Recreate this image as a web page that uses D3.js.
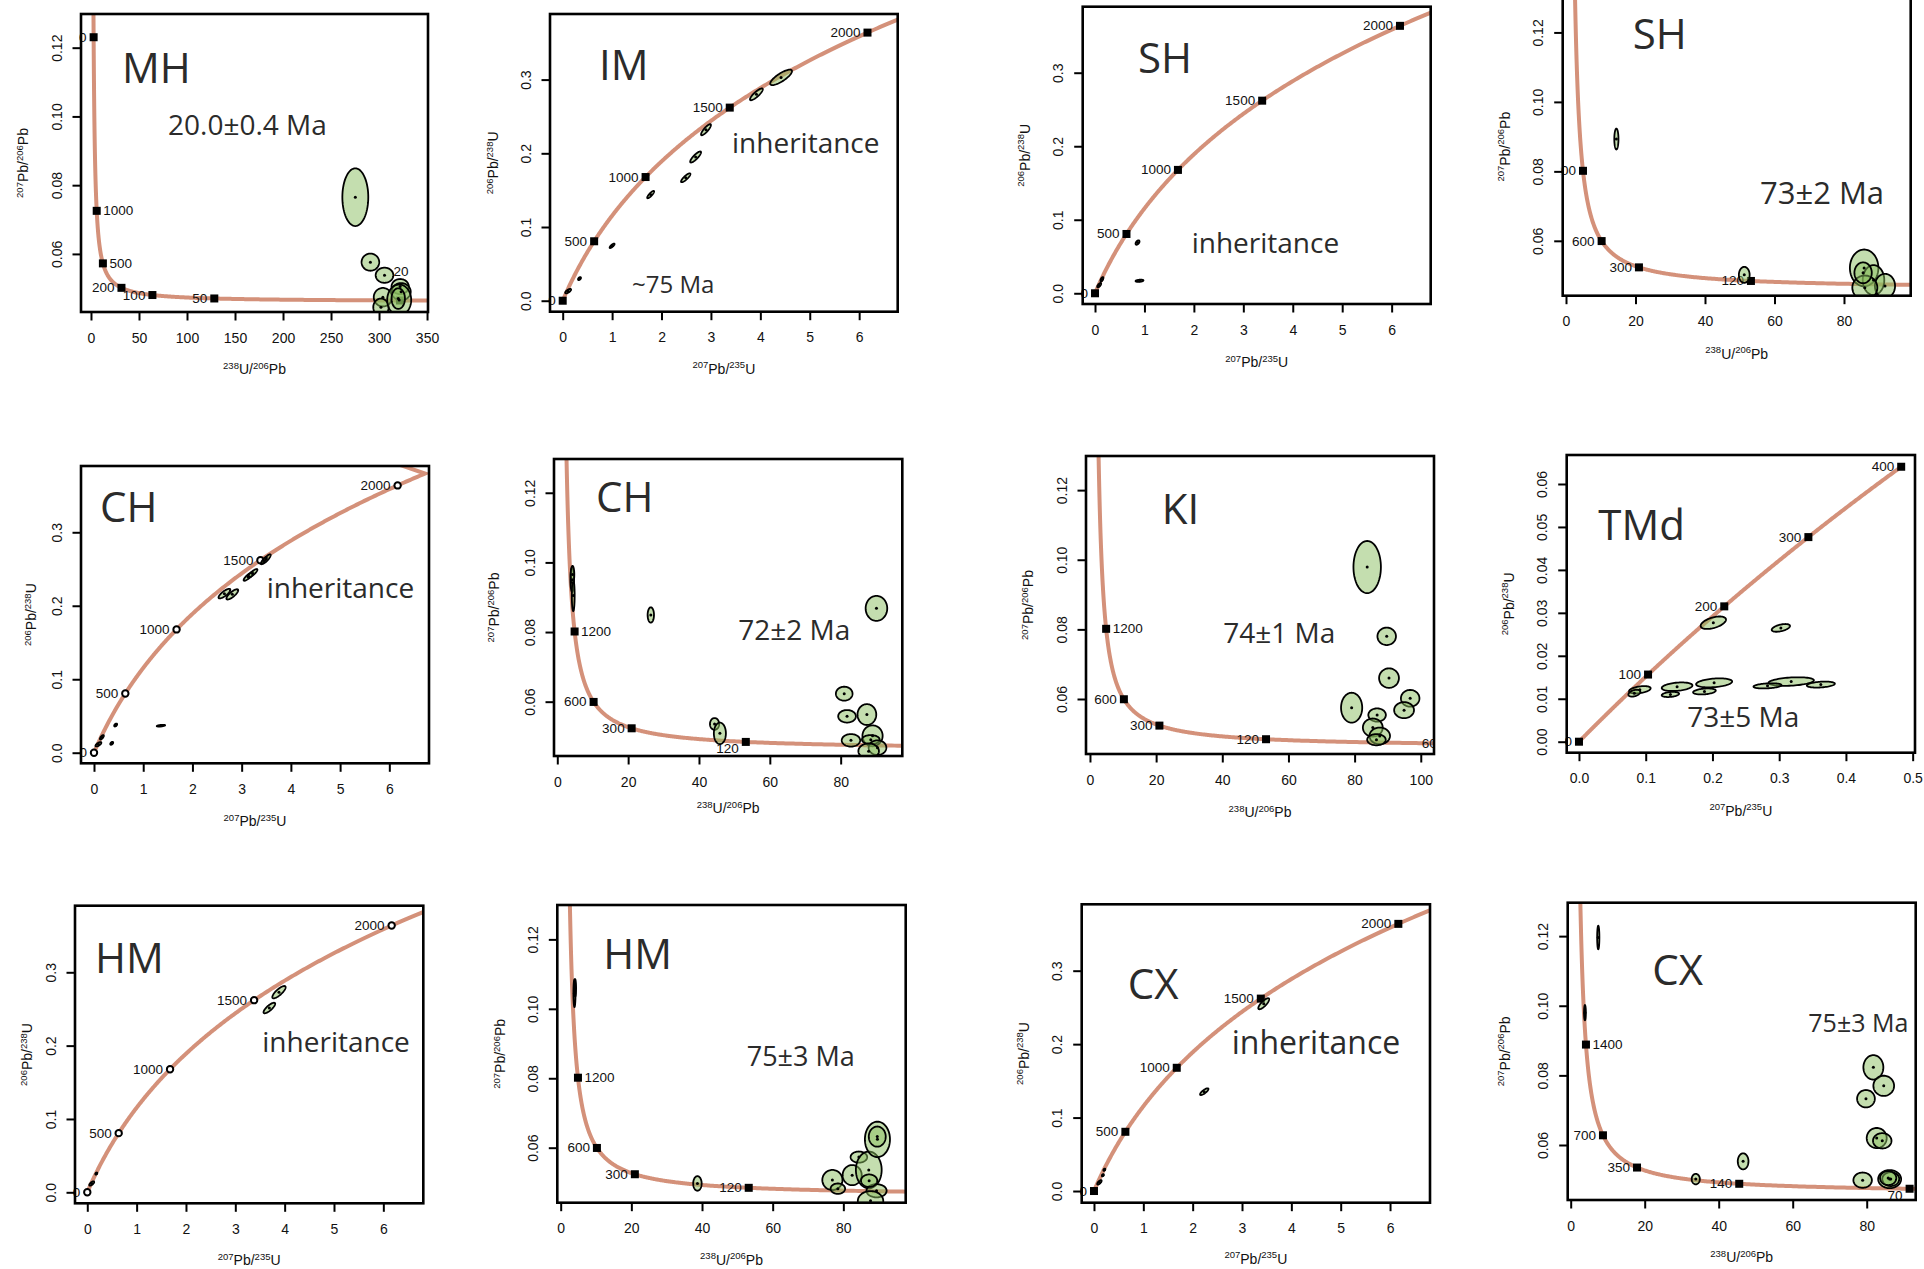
<!DOCTYPE html>
<html>
<head>
<meta charset="utf-8">
<script src="https://cdn.jsdelivr.net/npm/d3@7"></script>
<style>
body { margin: 0; background: #fff; }
svg { display: block; }
.axis text { font-family: "Liberation Sans", Arial, sans-serif; font-size: 14px; fill: #111; }
.axis-title { font-family: "Liberation Sans", Arial, sans-serif; font-size: 14px; fill: #111; }
.age-label { font-family: "Liberation Sans", Arial, sans-serif; font-size: 13.5px; fill: #111; }
.note { font-family: "Open Sans", "Noto Sans", sans-serif; fill: #2b2b2b; }
</style>
</head>
<body>
<svg id="chart" width="1924" height="1269"></svg>
<script>
// decay constants (per Ma) and 238U/235U
const L238 = 1.55125e-4;
const L235 = 9.8485e-4;
const U_RATIO = 137.818;

// tick values
const tw_y_ticks = [0.06, 0.08, 0.10, 0.12];
const w_y_ticks = [0, 0.1, 0.2, 0.3];
const w_x_ticks = [0, 1, 2, 3, 4, 5, 6];
const tw_x_ticks = [0, 20, 40, 60, 80];
const mh_x_ticks = [0, 50, 100, 150, 200, 250, 300, 350];
const ki_x_ticks = [0, 20, 40, 60, 80, 100];
const tmd_x_ticks = [0, 0.1, 0.2, 0.3, 0.4, 0.5];
const tmd_y_ticks = [0, 0.01, 0.02, 0.03, 0.04, 0.05, 0.06];

// concordia age markers (Ma)
const mh_ages = [2000, 1000, 500, 200, 100, 50, 20];
const w_ages = [0, 500, 1000, 1500, 2000];
const sh_tw_ages = [1200, 600, 300, 120];
const ki_ages = [1200, 600, 300, 120, 60];
const tmd_ages = [0, 100, 200, 300, 400];
const cx_tw_ages = [1400, 700, 350, 140, 70];

// spot ellipses: [x, y, half width x, half width y, rho]
const mh_spots = [
    [275.3, 0.0765, 13.5, 0.0084, 0], [291, 0.0576, 9.2, 0.0025, 0], [305.7, 0.0538, 9.2, 0.0022, 0],
    [304, 0.0474, 9.5, 0.0027, 0], [302, 0.0445, 8, 0.0025, 0], [322, 0.0505, 9, 0.0022, 0],
    [323, 0.0490, 10, 0.0025, 0], [321, 0.0466, 12.5, 0.0045, 0], [320, 0.0470, 7, 0.0030, 0]
];
const im_spots = [
    [4.42, 0.303, 0.22, 0.0105, 0.8], [3.92, 0.280, 0.13, 0.008, 0.85], [2.90, 0.232, 0.10, 0.0075, 0.85],
    [2.69, 0.195, 0.11, 0.0075, 0.85], [2.49, 0.1668, 0.095, 0.006, 0.85], [1.78, 0.144, 0.07, 0.005, 0.85],
    [1.0, 0.0745, 0.05, 0.003, 0.8], [0.34, 0.030, 0.03, 0.002, 0.5], [0.11, 0.013, 0.06, 0.003, 0.7]
];
const sh_w_spots = [
    [0.86, 0.069, 0.04, 0.003, 0.5], [0.9, 0.017, 0.08, 0.0015, 0.3],
    [0.14, 0.019, 0.03, 0.003, 0.6], [0.085, 0.011, 0.04, 0.003, 0.7]
];
const sh_tw_spots = [
    [14.5, 0.0893, 0.6, 0.003, 0], [51.3, 0.0502, 1.55, 0.0023, 0], [85.8, 0.0522, 4.1, 0.0053, 0],
    [88.5, 0.0487, 3.1, 0.0043, 0], [91.8, 0.047, 2.9, 0.0035, 0], [86, 0.0465, 3.6, 0.0035, 0],
    [85.5, 0.0508, 2.5, 0.003, 0]
];
const ch_w_spots = [
    [3.5, 0.2635, 0.09, 0.0065, 0.85], [3.45, 0.2615, 0.06, 0.005, 0.85], [3.14, 0.240, 0.1, 0.006, 0.85],
    [3.22, 0.244, 0.1, 0.006, 0.85], [2.65, 0.2165, 0.12, 0.0065, 0.8], [2.81, 0.2155, 0.12, 0.007, 0.8],
    [1.36, 0.0368, 0.085, 0.0012, 0.5], [0.44, 0.0377, 0.03, 0.002, 0.5], [0.36, 0.0128, 0.03, 0.002, 0.5],
    [0.16, 0.021, 0.04, 0.003, 0.7], [0.09, 0.0115, 0.06, 0.003, 0.7]
];
const ch_w_tail = [[6.2, 0.392]];
const ch_tw_spots = [
    [4.2, 0.095, 0.5, 0.0035, 0], [4.5, 0.0905, 0.4, 0.0045, 0], [4.3, 0.0965, 0.5, 0.0025, 0],
    [26.4, 0.0849, 0.9, 0.0022, 0], [44.4, 0.0536, 1.3, 0.0017, 0], [45.9, 0.0509, 1.7, 0.0031, 0],
    [90.1, 0.0868, 3.05, 0.0036, 0], [81, 0.0623, 2.35, 0.002, 0], [81.8, 0.0558, 2.5, 0.0018, 0],
    [87.4, 0.0563, 2.65, 0.003, 0], [82.9, 0.0489, 2.6, 0.0018, 0], [89, 0.0502, 2.85, 0.003, 0],
    [88.5, 0.0491, 2.5, 0.0013, 0], [90.4, 0.0468, 2.5, 0.0021, 0], [87.9, 0.0458, 2.9, 0.0022, 0]
];
const ki_spots = [
    [83.8, 0.0979, 4.15, 0.0075, 0], [89.7, 0.078, 2.8, 0.0025, 0], [90.4, 0.066, 3, 0.0028, 0],
    [79.1, 0.0575, 3.2, 0.0043, 0], [96.8, 0.0602, 2.8, 0.0024, 0], [94.95, 0.0568, 3, 0.0023, 0],
    [86.8, 0.0554, 2.65, 0.0019, 0], [85.5, 0.0518, 3, 0.0026, 0], [87.6, 0.0494, 3.1, 0.0024, 0],
    [86.6, 0.0483, 2.8, 0.0016, 0]
];
const tmd_spots = [
    [0.2013, 0.0277, 0.019, 0.00145, 0.5], [0.3025, 0.0265, 0.0137, 0.0009, 0.5],
    [0.0912, 0.0121, 0.0162, 0.00085, 0.4], [0.083, 0.0113, 0.009, 0.0008, 0.4],
    [0.147, 0.0128, 0.023, 0.001, 0.3], [0.137, 0.011, 0.013, 0.0006, 0.3],
    [0.2025, 0.0137, 0.027, 0.00105, 0.3], [0.188, 0.0117, 0.017, 0.0007, 0.3],
    [0.318, 0.014, 0.034, 0.001, 0.3], [0.2825, 0.013, 0.021, 0.0006, 0.3],
    [0.3624, 0.0133, 0.021, 0.0007, 0.3]
];
const hm_w_spots = [
    [3.885, 0.2729, 0.135, 0.0084, 0.8], [3.69, 0.2513, 0.118, 0.0072, 0.8],
    [0.183, 0.0255, 0.02, 0.0015, 0.5], [0.09, 0.012, 0.05, 0.003, 0.7]
];
const hm_tw_spots = [
    [3.9, 0.1045, 0.3, 0.004, 0], [4.1, 0.106, 0.25, 0.0025, 0], [38.7, 0.0497, 1.2, 0.0021, 0],
    [76.9, 0.0507, 2.85, 0.0029, 0], [78.45, 0.0482, 2.05, 0.0015, 0], [82.5, 0.0521, 2.7, 0.0029, 0],
    [84.4, 0.0573, 2.35, 0.0016, 0], [87.2, 0.0536, 3.65, 0.0053, 0], [89.65, 0.0624, 3.55, 0.0051, 0],
    [89.6, 0.0632, 2.4, 0.0029, 0], [89.4, 0.0476, 2.85, 0.0019, 0], [87.7, 0.0447, 3.6, 0.0028, 0],
    [87.3, 0.0505, 2.3, 0.0018, 0]
];
const cx_w_spots = [
    [3.44, 0.255, 0.11, 0.0075, 0.8], [2.235, 0.1353, 0.085, 0.0046, 0.8],
    [0.21, 0.029, 0.02, 0.0015, 0.5], [0.18, 0.0215, 0.02, 0.0015, 0.5], [0.11, 0.0118, 0.045, 0.003, 0.7]
];
const cx_tw_spots = [
    [7.45, 0.1196, 0.3, 0.0034, 0], [3.85, 0.098, 0.25, 0.0022, 0], [33.8, 0.0502, 1.1, 0.0015, 0],
    [46.6, 0.0553, 1.45, 0.0023, 0], [81.8, 0.0823, 2.7, 0.0035, 0], [84.6, 0.077, 2.8, 0.0029, 0],
    [79.8, 0.0733, 2.4, 0.0025, 0], [82.7, 0.062, 2.7, 0.0029, 0], [84.2, 0.0612, 2.5, 0.0022, 0],
    [78.9, 0.0499, 2.5, 0.0022, 0], [86.2, 0.0502, 3.1, 0.0026, 0], [86.5, 0.0502, 2.3, 0.002, 0],
    [85.8, 0.0505, 2.2, 0.002, 0]
];

const TW_X = ["238", "U", "206", "Pb"], TW_Y = ["207", "Pb", "206", "Pb"];
const W_X = ["207", "Pb", "235", "U"], W_Y = ["206", "Pb", "238", "U"];

const panels = [
    { id: "mh", kind: "tw", box: [81, 14, 428, 312], xDomain: [-10.4, 351], yDomain: [0.0431, 0.1298],
      xTicks: mh_x_ticks, yTicks: tw_y_ticks, xFmt: "d", yFmt: ".2f", ages: mh_ages,
      sides: ["l", "r", "r", "l", "l", "l", "t"], spots: mh_spots, marker: "square",
      texts: [["MH", 41, 69.3, 42], ["20.0±0.4 Ma", 87, 121, 28]], yTitleDx: -53, xTitleDy: 62 },
    { id: "im", kind: "w", box: [550, 14, 897.7, 311.7], xDomain: [-0.257, 6.78], yDomain: [-0.0149, 0.389],
      xTicks: w_x_ticks, yTicks: w_y_ticks, xFmt: "d", yFmt: ".1f", ages: w_ages, spots: im_spots,
      marker: "square", curveMax: 2600,
      texts: [["IM", 49, 66, 42], ["inheritance", 182, 139, 28], ["~75 Ma", 82, 279, 24]], yTitleDx: -52, xTitleDy: 62 },
    { id: "shw", kind: "w", box: [1082.7, 6.7, 1430.7, 304], xDomain: [-0.249, 6.79], yDomain: [-0.0146, 0.3898],
      xTicks: w_x_ticks, yTicks: w_y_ticks, xFmt: "d", yFmt: ".1f", ages: w_ages, spots: sh_w_spots,
      marker: "square", curveMax: 2600,
      texts: [["SH", 55.3, 66.6, 42], ["inheritance", 109, 246.3, 28]], yTitleDx: -53, xTitleDy: 63 },
    { id: "shtw", kind: "tw", box: [1562.7, -2.3, 1910.7, 295.7], xDomain: [-0.95, 99.2], yDomain: [0.0442, 0.13],
      xTicks: tw_x_ticks, yTicks: tw_y_ticks, xFmt: "d", yFmt: ".2f", ages: sh_tw_ages, spots: sh_tw_spots,
      marker: "square", texts: [["SH", 70, 51.6, 42], ["73±2 Ma", 197.3, 206.3, 31]], yTitleDx: -53, xTitleDy: 63 },
    { id: "chw", kind: "w", box: [81, 466, 429, 763.3], xDomain: [-0.264, 6.806], yDomain: [-0.0144, 0.3902],
      xTicks: w_x_ticks, yTicks: w_y_ticks, xFmt: "d", yFmt: ".1f", ages: w_ages, spots: ch_w_spots,
      marker: "circle", curveMax: 2076, tail: ch_w_tail,
      texts: [["CH", 19, 55.7, 42], ["inheritance", 185.7, 132.3, 28]], yTitleDx: -45, xTitleDy: 63 },
    { id: "chtw", kind: "tw", box: [554, 459, 902.3, 756], xDomain: [-0.93, 97.4], yDomain: [0.0444, 0.1297],
      xTicks: tw_x_ticks, yTicks: tw_y_ticks, xFmt: "d", yFmt: ".2f", ages: sh_tw_ages,
      sides: ["r", "l", "l", "lb"], spots: ch_tw_spots, marker: "square",
      texts: [["CH", 42, 52.7, 42], ["72±2 Ma", 184.3, 181, 28]], yTitleDx: -55, xTitleDy: 57 },
    { id: "ki", kind: "tw", box: [1086, 456, 1434, 754], xDomain: [-1.2, 104.0], yDomain: [0.0442, 0.1298],
      xTicks: ki_x_ticks, yTicks: tw_y_ticks, xFmt: "d", yFmt: ".2f", ages: ki_ages,
      sides: ["r", "l", "l", "l", "l"], spots: ki_spots, marker: "square",
      texts: [["KI", 75.7, 68.3, 42], ["74±1 Ma", 137.3, 187.3, 28]], yTitleDx: -53, xTitleDy: 63 },
    { id: "tmd", kind: "w", box: [1566.7, 455, 1915, 752.7], xDomain: [-0.0184, 0.5035], yDomain: [-0.00256, 0.06675],
      xTicks: tmd_x_ticks, yTicks: tmd_y_ticks, xFmt: ".1f", yFmt: ".2f", ages: tmd_ages, spots: tmd_spots,
      marker: "square", curveMax: 400,
      texts: [["TMd", 31.6, 85, 42], ["73±5 Ma", 120.6, 271.7, 28]], yTitleDx: -53, xTitleDy: 63 },
    { id: "hmw", kind: "w", box: [75, 905.7, 423.3, 1203.3], xDomain: [-0.249, 6.81], yDomain: [-0.015, 0.3908],
      xTicks: w_x_ticks, yTicks: w_y_ticks, xFmt: "d", yFmt: ".1f", ages: w_ages, spots: hm_w_spots,
      marker: "circle", curveMax: 2600,
      texts: [["HM", 20, 67.6, 42], ["inheritance", 187.3, 146, 28]], yTitleDx: -43, xTitleDy: 62 },
    { id: "hmtw", kind: "tw", box: [557.3, 905, 905.7, 1202.7], xDomain: [-0.96, 97.65], yDomain: [0.04416, 0.1299],
      xTicks: tw_x_ticks, yTicks: tw_y_ticks, xFmt: "d", yFmt: ".2f", ages: sh_tw_ages,
      sides: ["r", "l", "l", "l"], spots: hm_tw_spots, marker: "square",
      texts: [["HM", 46, 64.3, 42], ["75±3 Ma", 189.4, 160.7, 27]], yTitleDx: -52, xTitleDy: 62 },
    { id: "cxw", kind: "w", box: [1081.7, 904.3, 1430, 1202.7], xDomain: [-0.249, 6.81], yDomain: [-0.0159, 0.3904],
      xTicks: w_x_ticks, yTicks: w_y_ticks, xFmt: "d", yFmt: ".1f", ages: w_ages, spots: cx_w_spots,
      marker: "square", curveMax: 2600,
      texts: [["CX", 46, 95, 42], ["inheritance", 150, 149.7, 32]], yTitleDx: -53, xTitleDy: 61 },
    { id: "cxtw", kind: "tw", box: [1567.7, 902.7, 1915.7, 1200], xDomain: [-0.81, 93.24], yDomain: [0.0442, 0.1296],
      xTicks: tw_x_ticks, yTicks: tw_y_ticks, xFmt: "d", yFmt: ".2f", ages: cx_tw_ages,
      sides: ["r", "l", "l", "l", "lb"], spots: cx_tw_spots, marker: "square",
      texts: [["CX", 84.6, 82.3, 42], ["75±3 Ma", 240.6, 129, 25]], yTitleDx: -58, xTitleDy: 62 }
];

function wetherill(t) {
    return [Math.expm1(L235 * t), Math.expm1(L238 * t)];
}

function tera_wasserburg(t) {
    const a = Math.expm1(L238 * t);
    return [1 / a, Math.expm1(L235 * t) / a / U_RATIO];
}

function ellipse_points(e) {
    const [cx, cy, sx, sy, rho] = e;
    const k = Math.sqrt(1 - rho * rho);
    return d3.range(0, 72).map(i => {
        const a = 2 * Math.PI * i / 72;
        return [cx + sx * Math.cos(a), cy + sy * (rho * Math.cos(a) + k * Math.sin(a))];
    });
}

function ratio_text(sel, parts) {
    // parts = [mass, element, mass, element]
    sel.append("tspan").attr("font-size", 9.5).attr("dy", -5.5).text(parts[0]);
    sel.append("tspan").attr("font-size", 14).attr("dy", 5.5).text(parts[1] + "/");
    sel.append("tspan").attr("font-size", 9.5).attr("dy", -5.5).text(parts[2]);
    sel.append("tspan").attr("font-size", 14).attr("dy", 5.5).text(parts[3]);
}

const svg = d3.select("#chart");
svg.append("rect").attr("width", 1924).attr("height", 1269).attr("fill", "#fff");
const defs = svg.append("defs");

panels.forEach(p => {
    const [x0, y0, x1, y1] = p.box;
    const xs = d3.scaleLinear().domain(p.xDomain).range([x0, x1]);
    const ys = d3.scaleLinear().domain(p.yDomain).range([y1, y0]);
    const proj = p.kind === "tw" ? tera_wasserburg : wetherill;

    defs.append("clipPath").attr("id", "clip-" + p.id)
        .append("rect")
        .attr("x", x0 - 2).attr("y", y0)
        .attr("width", x1 - x0 + 2).attr("height", y1 - y0);

    const g = svg.append("g");
    const plot = g.append("g").attr("clip-path", `url(#clip-${p.id})`);

    // concordia
    let ts;
    if (p.kind === "tw") ts = d3.range(0, 801).map(i => 4 * Math.pow(1000, i / 800));
    else ts = d3.range(0, 401).map(i => p.curveMax * i / 400);
    let curve = ts.map(proj);
    if (p.tail) curve = curve.concat(p.tail);

    const line = d3.line().x(d => xs(d[0])).y(d => ys(d[1]));
    plot.append("path")
        .attr("d", line(curve))
        .attr("fill", "none")
        .attr("stroke", "#d4917a")
        .attr("stroke-width", 4);

    // age markers
    const marks = p.ages.map((t, i) => {
        const c = proj(t === 0 ? 1e-9 : t);
        return { t: t, x: xs(p.kind === "w" && t === 0 ? 0 : c[0]), y: ys(p.kind === "w" && t === 0 ? 0 : c[1]),
                 side: p.sides ? p.sides[i] : "l" };
    });

    if (p.marker === "square") {
        plot.selectAll("rect.mk").data(marks).enter().append("rect")
            .attr("x", d => d.x - 4).attr("y", d => d.y - 4)
            .attr("width", 8).attr("height", 8)
            .attr("fill", "#000");
    } else {
        plot.selectAll("circle.mk").data(marks).enter().append("circle")
            .attr("cx", d => d.x).attr("cy", d => d.y).attr("r", 3.2)
            .attr("fill", "#fff").attr("stroke", "#000").attr("stroke-width", 2);
    }

    plot.selectAll("text.age").data(marks).enter().append("text")
        .attr("class", "age-label")
        .attr("x", d => d.side === "r" ? d.x + 6.5 : d.side === "t" ? d.x + 1 : d.x - 7)
        .attr("y", d => d.side === "lb" ? d.y + 7 : d.side === "t" ? d.y - 29 : d.y)
        .attr("dominant-baseline", "central")
        .attr("text-anchor", d => d.side === "r" ? "start" : d.side === "t" ? "middle" : "end")
        .text(d => d.t);

    // spot ellipses
    plot.selectAll("path.spot").data(p.spots).enter().append("path")
        .attr("d", d => d3.line().x(q => xs(q[0])).y(q => ys(q[1])).curve(d3.curveLinearClosed)(ellipse_points(d)))
        .attr("fill", "rgba(138,190,96,0.5)")
        .attr("stroke", "#000")
        .attr("stroke-width", 1.8);

    plot.selectAll("circle.dot").data(p.spots).enter().append("circle")
        .attr("cx", d => xs(d[0])).attr("cy", d => ys(d[1])).attr("r", 1.5)
        .attr("fill", "#000");

    // annotations
    p.texts.forEach(([txt, dx, dy, size]) => {
        g.append("text").attr("class", "note")
            .attr("x", x0 + dx).attr("y", y0 + dy)
            .attr("font-size", size)
            .text(txt);
    });

    // axes
    const xAxis = g.append("g").attr("class", "axis")
        .attr("transform", `translate(0,${y1})`)
        .call(d3.axisBottom(xs).tickValues(p.xTicks).tickSize(8.5).tickPadding(12.3).tickFormat(d3.format(p.xFmt)));
    const yAxis = g.append("g").attr("class", "axis")
        .attr("transform", `translate(${x0},0)`)
        .call(d3.axisLeft(ys).tickValues(p.yTicks).tickSize(8.5).tickFormat(d3.format(p.yFmt)));
    [xAxis, yAxis].forEach(a => {
        a.select(".domain").remove();
        a.selectAll("line").attr("stroke", "#000").attr("stroke-width", 2);
    });
    yAxis.selectAll("text")
        .attr("x", null).attr("dy", null)
        .attr("text-anchor", "middle")
        .attr("transform", "translate(-19.5,0) rotate(-90)");

    // box
    g.append("rect")
        .attr("x", x0).attr("y", y0)
        .attr("width", x1 - x0).attr("height", y1 - y0)
        .attr("fill", "none").attr("stroke", "#000").attr("stroke-width", 2.6);

    // axis titles
    g.append("text").attr("class", "axis-title")
        .attr("x", (x0 + x1) / 2).attr("y", y1 + p.xTitleDy)
        .attr("text-anchor", "middle")
        .call(ratio_text, p.kind === "tw" ? TW_X : W_X);
    g.append("text").attr("class", "axis-title")
        .attr("text-anchor", "middle")
        .attr("transform", `translate(${x0 + p.yTitleDx},${(y0 + y1) / 2}) rotate(-90)`)
        .call(ratio_text, p.kind === "tw" ? TW_Y : W_Y);
});
</script>
</body>
</html>
